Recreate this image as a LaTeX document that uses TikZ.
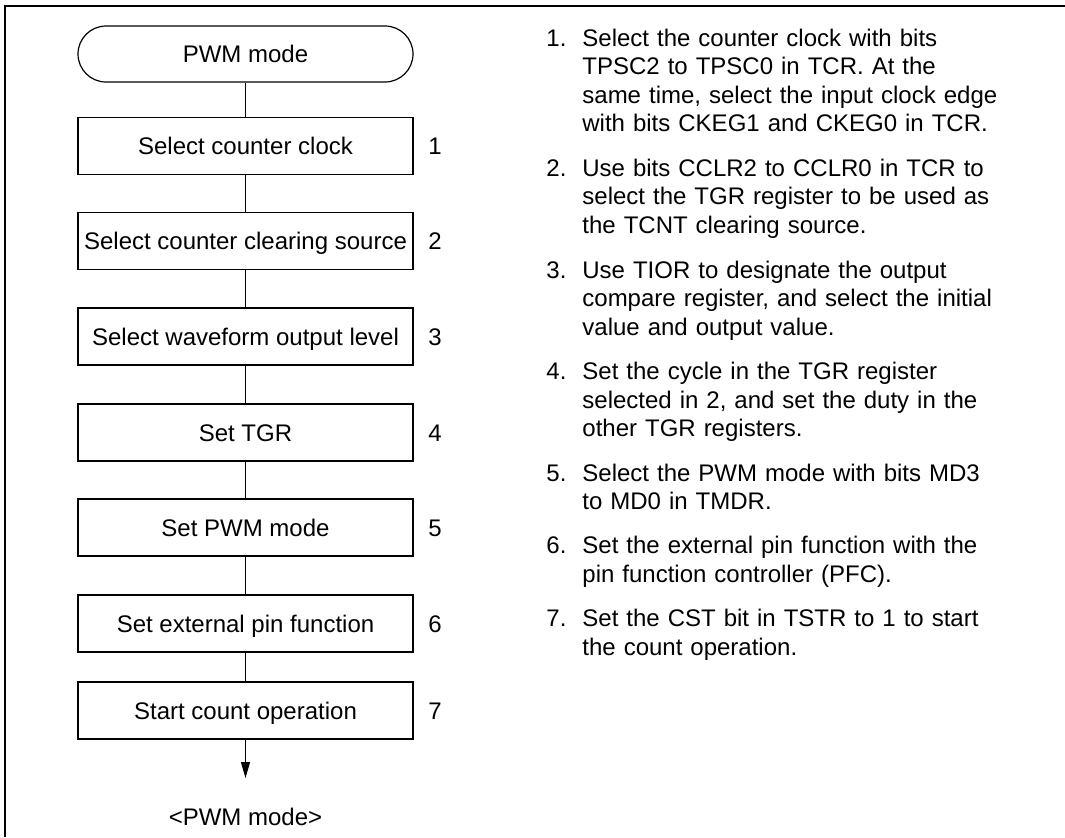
\documentclass[tikz,border=0pt]{standalone}
\usepackage{fontspec}
\setmainfont{Liberation Sans}
\usetikzlibrary{positioning, arrows.meta}
\newcommand{\stepnote}[2]{%
  \hangindent=18pt\hangafter=1\noindent\makebox[18pt][l]{#1.}#2\par}
\begin{document}
\begin{tikzpicture}[
  x=0.5pt, y=-0.5pt,
  font=\fontsize{12}{14.25}\selectfont,
  >={Triangle[length=8pt, width=4.5pt]},
  link/.style={draw, line width=0.5pt},
  stepbox/.style={draw, line width=0.6pt, minimum width=167.5pt,
                  minimum height=28.5pt, inner sep=0pt,
                  text height=8.6pt, text depth=0pt},
  terminal/.style={stepbox, rounded corners=14pt, minimum height=28pt},
  stepnum/.style={inner sep=0pt, text height=8.6pt, text depth=0pt},
  note/.style={anchor=base west, inner sep=0pt, text width=240pt, align=left},
]
\useasboundingbox (0,0) rectangle (1065,837);

% ── frame (open on the right and at the bottom) ──────────────────────────────
\draw[line width=1pt] (1065,6) -- (5,6) -- (5,837);

% ── flow chart ───────────────────────────────────────────────────────────────
\node[terminal] (start) at (245.5,54) {PWM mode};
\foreach \i/\y/\t in {1/146/Select counter clock,
                      2/241/Select counter clearing source,
                      3/336.5/Select waveform output level,
                      4/432.5/Set TGR,
                      5/527.5/Set PWM mode,
                      6/623.5/Set external pin function,
                      7/710.5/Start count operation}{
  \node[stepbox] (s\i) at (245.5,\y) {\t};
  \node[stepnum] (n\i) at (435,\y) {\i};
}
\draw[link] (start) -- (s1);
\foreach \i [count=\j from 2] in {1,...,6}{ \draw[link] (s\i) -- (s\j); }
\coordinate (tip) at (245.5,778);
\draw[link, ->] (s7) -- (tip);
\node (end) at (245.5,817) {<PWM mode>};

% ── notes ────────────────────────────────────────────────────────────────────
\foreach \i/\y/\t in {
  1/46/{Select the counter clock with bits\newline TPSC2 to TPSC0 in TCR. At the\newline same time, select the input clock edge\newline with bits CKEG1 and CKEG0 in TCR.},
  2/176/{Use bits CCLR2 to CCLR0 in TCR to\newline select the TGR register to be used as\newline the TCNT clearing source.},
  3/278/{Use TIOR to designate the output\newline compare register, and select the initial\newline value and output value.},
  4/379.5/{Set the cycle in the TGR register\newline selected in 2, and set the duty in the\newline other TGR registers.},
  5/481/{Select the PWM mode with bits MD3\newline to MD0 in TMDR.},
  6/553.5/{Set the external pin function with the\newline pin function controller (PFC).},
  7/626.5/{Set the CST bit in TSTR to 1 to start\newline the count operation.}}{
  \node[note] (d\i) at (546,\y) {\stepnote{\i}{\t}};
}

\end{tikzpicture}
\end{document}
